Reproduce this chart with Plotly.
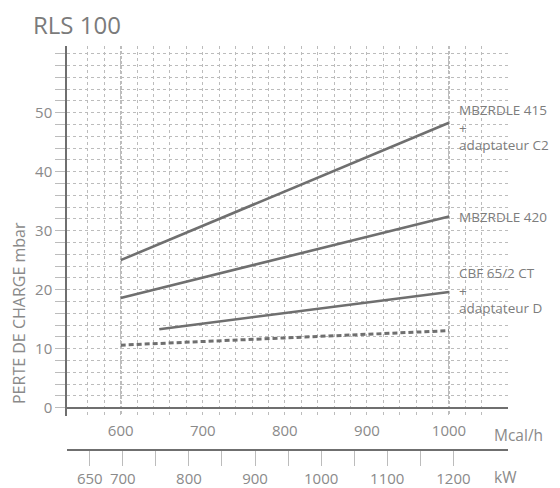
import plotly.graph_objects as go

# page body has an 8px margin, so the figure is 552x480 drawn at (8, 8)
OFF = 8
W, H = 560 - OFF, 488 - OFF

# ---- data ----
mcal_415 = [600, 1000]
dp_415 = [25.0, 48.3]
mcal_420 = [600, 1000]
dp_420 = [18.6, 32.4]
mcal_cbf = [647, 1000]
dp_cbf = [13.3, 19.6]
mcal_dash = [600, 1000]
dp_dash = [10.6, 13.05]

label_415 = "MBZRDLE 415<br>+<br>adaptateur C2"
label_420 = "MBZRDLE 420"
label_cbf = "CBF 65/2 CT<br>+<br>adaptateur D"

mcal_ticks = [600, 700, 800, 900, 1000]
mcal_grid = list(range(560, 1041, 20))
kw_ticks = [650, 700, 800, 900, 1000, 1100, 1200]
kw_minor = [750, 850, 950, 1050, 1150]
y_ticks = [0, 10, 20, 30, 40, 50]

title = "RLS 100"
y_title = "PERTE DE CHARGE mbar"
unit_mcal = "Mcal/h"
unit_kw = "kW"

FONT = "Open Sans"
LINE = "#6f6f6f"
GRID = "#bcbcbc"
TXT = "#8a8a8a"


def px(x):
    return (x - OFF) / W


def py(y):
    return 1 - (y - OFF) / H


fig = go.Figure()

common = dict(mode="lines", hoverinfo="skip", showlegend=False)
fig.add_trace(go.Scatter(x=mcal_415, y=dp_415, line=dict(color=LINE, width=2.6), **common))
fig.add_trace(go.Scatter(x=mcal_420, y=dp_420, line=dict(color=LINE, width=2.6), **common))
fig.add_trace(go.Scatter(x=mcal_cbf, y=dp_cbf, line=dict(color=LINE, width=2.6), **common))
fig.add_trace(go.Scatter(x=mcal_dash, y=dp_dash, line=dict(color=LINE, width=3, dash="5px,3px"), **common))
# helper traces so that the extra axes get drawn
fig.add_trace(go.Scatter(x=[kw_ticks[0]], y=[None], xaxis="x2", yaxis="y", **common))
fig.add_trace(go.Scatter(x=[mcal_ticks[0]], y=[None], xaxis="x3", yaxis="y", **common))

x_dom = [px(67), px(508)]
x_rng = [534.6, 1071.9]
y_dom = [py(416), py(45.7)]

fig.update_layout(
    width=W, height=H,
    margin=dict(l=0, r=0, t=0, b=0),
    paper_bgcolor="white", plot_bgcolor="white",
    font=dict(family=FONT, size=15, color=TXT),
    xaxis=dict(
        domain=x_dom, range=x_rng, anchor="y",
        tickmode="array", tickvals=mcal_ticks,
        ticks="outside", ticklen=1, tickcolor="rgba(0,0,0,0)",
        showgrid=False, zeroline=False, showline=False,
        minor=dict(tickmode="array", tickvals=mcal_grid,
                   showgrid=True, gridcolor=GRID, gridwidth=1, griddash="3px,3px", ticks=""),
        tickfont=dict(size=15, color=TXT),
        automargin=False,
    ),
    xaxis3=dict(
        domain=x_dom, range=x_rng, anchor="y", overlaying="x",
        tickmode="array", tickvals=[600, 1000], showticklabels=False, ticks="",
        showgrid=True, gridcolor="#bdbdbd", gridwidth=2, griddash="3px,2px",
        zeroline=False, showline=False, automargin=False,
    ),
    xaxis2=dict(
        domain=[px(65), px(517)], range=[615.6, 1282.6],
        anchor="free", position=py(450), overlaying="x",
        tickmode="array", tickvals=kw_ticks,
        ticks="outside", ticklen=15, tickcolor=GRID, tickwidth=1,
        minor=dict(tickmode="array", tickvals=kw_minor,
                   ticks="outside", ticklen=15, tickcolor=GRID, tickwidth=1, showgrid=False),
        showgrid=False, zeroline=False,
        showline=True, linecolor=LINE, linewidth=1.5,
        tickfont=dict(size=15, color=TXT),
        automargin=False,
    ),
    yaxis=dict(
        domain=y_dom, range=[-1.41, 61.35], anchor="x",
        tickmode="array", tickvals=y_ticks,
        ticks="outside", ticklen=10, tickcolor=GRID, tickwidth=1,
        showgrid=True, gridcolor=GRID, gridwidth=1, griddash="3px,3px",
        minor=dict(dtick=2, tick0=0, showgrid=True, gridcolor=GRID, gridwidth=1,
                   griddash="3px,3px", ticks="outside", ticklen=10, tickcolor=GRID),
        zeroline=True, zerolinecolor=LINE, zerolinewidth=1.5,
        showline=True, linecolor=LINE, linewidth=1.5,
        tickfont=dict(size=15, color=TXT),
        automargin=False,
    ),
)

ann = []
ann.append(dict(text=title, xref="paper", yref="paper", x=px(31), y=py(24.6),
                xanchor="left", yanchor="middle", showarrow=False,
                font=dict(size=24, color="#7b7b7b")))
ann.append(dict(text=y_title, xref="paper", yref="paper", x=px(19), y=py(313),
                xanchor="center", yanchor="middle", textangle=-90, showarrow=False,
                font=dict(size=16, color=TXT)))
ann.append(dict(text=unit_mcal, xref="paper", yref="paper", x=px(492), y=py(435),
                xanchor="left", yanchor="middle", showarrow=False,
                font=dict(size=15.5, color=TXT)))
ann.append(dict(text=unit_kw, xref="paper", yref="paper", x=px(492), y=py(477),
                xanchor="left", yanchor="middle", showarrow=False,
                font=dict(size=15.5, color=TXT)))
for txt, yv in [(label_415, 47.5), (label_420, 32.4), (label_cbf, 19.8)]:
    ann.append(dict(text=txt, xref="x", yref="y", x=1009.5, y=yv,
                    xanchor="left", yanchor="middle", align="left", showarrow=False,
                    font=dict(size=13.5, color="#7d7d7d")))
fig.update_layout(annotations=ann)

fig.write_html("out.html")
